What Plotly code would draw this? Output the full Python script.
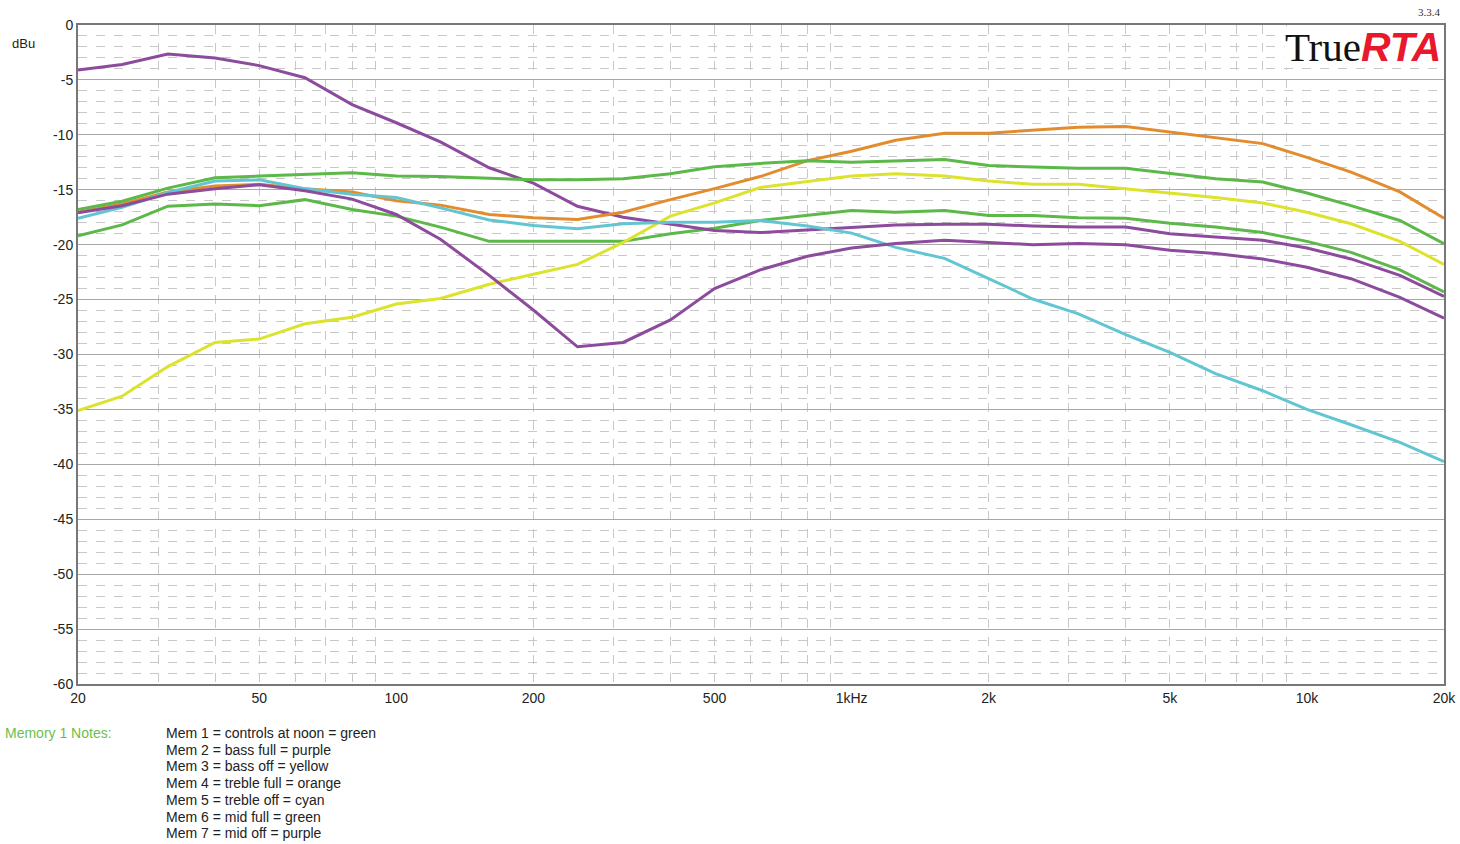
import plotly.graph_objects as go

# ── Data (1/3-octave bands, dBu) ─────────────────────────────────────────────
FREQS = [20, 25, 31.5, 40, 50, 63, 80, 100, 125, 160, 200, 250, 315, 400, 500,
         630, 800, 1000, 1250, 1600, 2000, 2500, 3150, 4000, 5000, 6300, 8000,
         10000, 12500, 16000, 20000]

MEM1_NOON = [-19.2, -18.2, -16.5, -16.3, -16.45, -15.9, -16.8, -17.4, -18.4, -19.7,
             -19.7, -19.7, -19.7, -19.0, -18.5, -17.8, -17.3, -16.9, -17.05, -16.9,
             -17.35, -17.35, -17.55, -17.6, -18.05, -18.4, -18.9, -19.7, -20.7, -22.3, -24.3]
MEM2_BASS_FULL = [-4.1, -3.6, -2.65, -3.0, -3.7, -4.8, -7.25, -8.9, -10.65, -13.0,
                  -14.4, -16.5, -17.5, -18.1, -18.7, -18.9, -18.65, -18.45, -18.2, -18.15,
                  -18.15, -18.3, -18.4, -18.4, -19.0, -19.3, -19.6, -20.3, -21.3, -22.8, -24.7]
MEM3_BASS_OFF = [-35.1, -33.8, -31.1, -28.9, -28.6, -27.2, -26.6, -25.4, -24.9, -23.6,
                 -22.7, -21.8, -19.8, -17.4, -16.2, -14.8, -14.25, -13.75, -13.55, -13.75,
                 -14.2, -14.5, -14.5, -14.9, -15.3, -15.7, -16.2, -17.05, -18.1, -19.7, -21.8]
MEM4_TREBLE_FULL = [-17.05, -16.3, -15.2, -14.65, -14.5, -14.9, -15.2, -16.0, -16.4, -17.25,
                    -17.55, -17.7, -17.05, -15.9, -14.9, -13.8, -12.35, -11.5, -10.5, -9.85,
                    -9.85, -9.6, -9.3, -9.25, -9.75, -10.25, -10.8, -12.05, -13.4, -15.2, -17.6]
MEM5_TREBLE_OFF = [-17.6, -16.6, -15.25, -14.2, -14.1, -14.9, -15.4, -15.7, -16.65, -17.75,
                   -18.25, -18.55, -18.1, -17.95, -17.95, -17.8, -18.3, -18.95, -20.25, -21.25,
                   -23.1, -24.95, -26.3, -28.2, -29.8, -31.75, -33.3, -35.0, -36.4, -38.0, -39.75]
MEM6_MID_FULL = [-16.8, -16.05, -14.85, -13.9, -13.75, -13.6, -13.45, -13.75, -13.8, -13.95,
                 -14.1, -14.1, -14.0, -13.55, -12.9, -12.6, -12.35, -12.5, -12.35, -12.25,
                 -12.8, -12.95, -13.05, -13.05, -13.55, -14.0, -14.3, -15.3, -16.45, -17.8, -19.9]
MEM7_MID_OFF = [-17.1, -16.45, -15.4, -14.9, -14.55, -15.1, -15.85, -17.25, -19.5, -22.8,
                -25.95, -29.3, -28.9, -26.85, -24.0, -22.3, -21.05, -20.3, -19.9, -19.6,
                -19.8, -20.0, -19.9, -20.0, -20.5, -20.8, -21.3, -22.05, -23.1, -24.8, -26.7]

X_TICKS = [20, 50, 100, 200, 500, 1000, 2000, 5000, 10000, 20000]
X_TICK_TEXT = ["20", "50", "100", "200", "500", "1kHz", "2k", "5k", "10k", "20k"]
X_MINOR = [30, 40, 50, 60, 70, 80, 90,
           200, 300, 400, 500, 600, 700, 800, 900,
           2000, 3000, 4000, 5000, 6000, 7000, 8000, 9000]
X_MAJOR_GRID = [100, 1000, 10000]
Y_TICKS = list(range(0, -65, -5))
Y_TICK_TEXT = [str(v) for v in Y_TICKS]   # plain hyphen, not unicode minus

NOTES = [
    "Mem 1 = controls at noon = green",
    "Mem 2 = bass full = purple",
    "Mem 3 = bass off = yellow",
    "Mem 4 = treble full = orange",
    "Mem 5 = treble off = cyan",
    "Mem 6 = mid full = green",
    "Mem 7 = mid off = purple",
]

# ── Colours ──────────────────────────────────────────────────────────────────
GREEN = "#5cb848"
PURPLE = "#8c4b9c"
YELLOW = "#dde22c"
ORANGE = "#e38c2e"
CYAN = "#62c6d2"

SERIES = [
    ("Mem 1", MEM1_NOON, GREEN),
    ("Mem 2", MEM2_BASS_FULL, PURPLE),
    ("Mem 3", MEM3_BASS_OFF, YELLOW),
    ("Mem 4", MEM4_TREBLE_FULL, ORANGE),
    ("Mem 5", MEM5_TREBLE_OFF, CYAN),
    ("Mem 6", MEM6_MID_FULL, GREEN),
    ("Mem 7", MEM7_MID_OFF, PURPLE),
]

# plot area in pixels
W, H = 1460, 844
L, R, T, B = 78, 1444, 25, 684


def px(x):
    return (x - L) / (R - L)


def py(y):
    return (B - y) / (B - T)


fig = go.Figure()
for name, vals, color in SERIES:
    fig.add_trace(go.Scatter(
        x=FREQS, y=vals, name=name, mode="lines",
        line=dict(color=color, width=3),
        hoverinfo="x+y+name"
    ))

FONT = "Liberation Sans, Arial, sans-serif"

fig.update_layout(
    width=W, height=H, autosize=False,
    margin=dict(l=L, r=W - R, t=T, b=H - B, autoexpand=False),
    paper_bgcolor="white",
    plot_bgcolor="white",
    showlegend=False,
    font=dict(family=FONT, size=14, color="#222"),
    xaxis=dict(
        type="log",
        range=[1.30103, 4.30103],
        tickmode="array", tickvals=X_TICKS, ticktext=X_TICK_TEXT,
        showgrid=False, ticks="", ticklen=0, automargin=False,
        showline=True, mirror=True, linecolor="#777", linewidth=2,
        tickfont=dict(size=14, color="#222"),
        minor=dict(tickmode="array", tickvals=X_MINOR, showgrid=True,
                   gridcolor="#c8c8c8", griddash="dash", gridwidth=1, ticks=""),
        zeroline=False,
    ),
    xaxis2=dict(
        type="log",
        range=[1.30103, 4.30103],
        overlaying="x", anchor="y", automargin=False,
        tickmode="array", tickvals=X_MAJOR_GRID,
        showticklabels=False, ticks="",
        showgrid=True, gridcolor="#a8a8a8", gridwidth=1,
    ),
    yaxis=dict(
        range=[-60, 0],
        tickmode="array", tickvals=Y_TICKS, ticktext=Y_TICK_TEXT,
        showgrid=True, gridcolor="#a8a8a8", gridwidth=1,
        ticks="", ticklen=0, automargin=False,
        showline=True, mirror=True, linecolor="#777", linewidth=2,
        tickfont=dict(size=14, color="#222"),
        minor=dict(dtick=1, showgrid=True, gridcolor="#c8c8c8",
                   griddash="dash", gridwidth=1, ticks=""),
        zeroline=False,
    ),
)

# axis unit label
fig.add_annotation(text="dBu", x=px(23), y=py(44), xref="paper", yref="paper",
                   showarrow=False, xanchor="center", yanchor="middle",
                   font=dict(size=13, color="#222"))

# version + logo (white box hides the grid behind it, top border stays visible)
fig.add_annotation(text="3.3.4", x=px(1443), y=py(12), xref="paper", yref="paper",
                   showarrow=False, xanchor="right", yanchor="middle",
                   font=dict(family="Liberation Serif, Times New Roman, serif", size=11, color="#333"))
fig.add_annotation(
    text=("True<span style=\"font-family:Liberation Sans, Arial;color:#e8192c\">"
          "<b><i>RTA</i></b></span>"),
    x=px(1442), y=py(47), xref="paper", yref="paper",
    showarrow=False, xanchor="right", yanchor="middle",
    height=40, valign="middle",
    bgcolor="white", borderpad=0,
    font=dict(family="Liberation Serif, Times New Roman, serif", size=41, color="#111"),
)

# notes block
fig.add_annotation(text="Memory 1 Notes:", x=px(3), y=py(733), xref="paper", yref="paper",
                   showarrow=False, xanchor="left", yanchor="middle",
                   font=dict(size=14, color="#6cc04a"))
for i, line in enumerate(NOTES):
    fig.add_annotation(text=line, x=px(164), y=py(733 + i * 16.7),
                       xref="paper", yref="paper",
                       showarrow=False, xanchor="left", yanchor="middle",
                       font=dict(size=14, color="#222"))

# no modebar, no body margin/scrollbars: the figure fills the window exactly
fig.write_html(
    "out.html",
    config={"displayModeBar": False, "responsive": False},
    post_script=("document.body.style.margin='0';"
                 "document.body.style.overflow='hidden';"),
)
